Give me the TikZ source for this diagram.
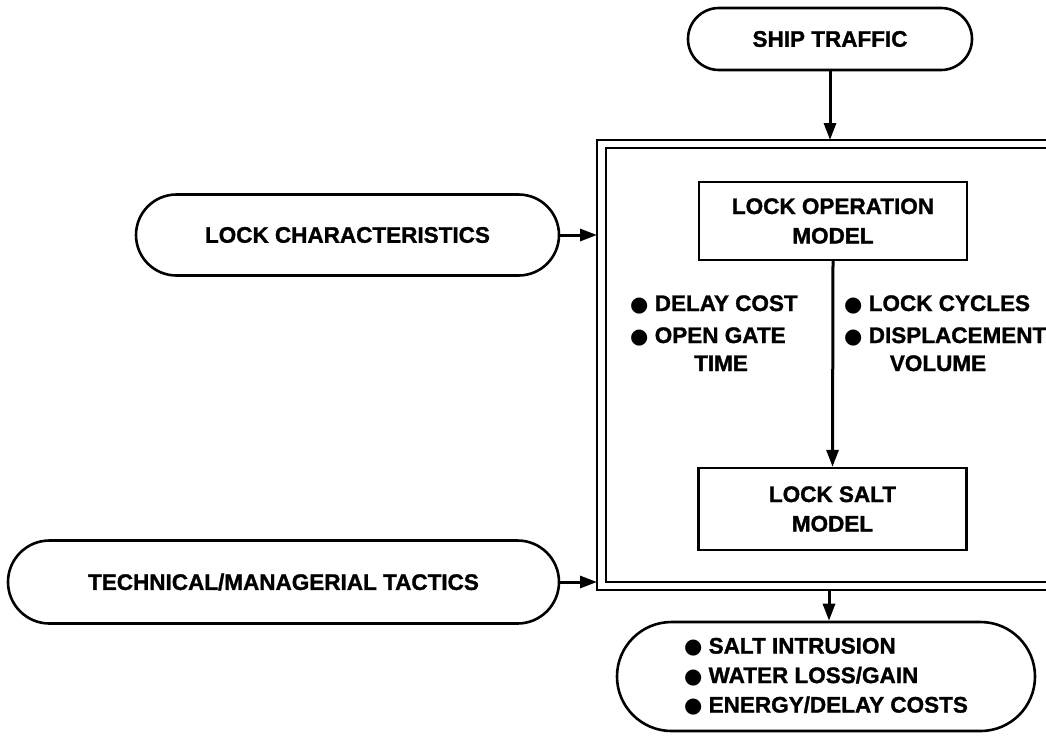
\documentclass[tikz,border=0pt]{standalone}
\usepackage{fontspec}
\setmainfont{Liberation Sans}[BoldFeatures={FakeBold=1.3}]
\newfontfamily\dvs{DejaVu Sans}
\usetikzlibrary{arrows.meta,shapes.misc}
\newcommand\blt{{\dvs\fontsize{21}{21}\selectfont ●}}
\begin{document}
\begin{tikzpicture}[x=1pt,y=-1pt,
  every node/.style={font=\bfseries\fontsize{22.5}{29.5}\selectfont, inner sep=0pt},
  pill/.style={draw, line width=2.6pt, rounded rectangle, minimum width=#1},
  modelbox/.style={draw, line width=2.4pt, minimum width=268pt, minimum height=80pt, align=center},
  flow/.style={line width=3pt, -{Triangle[length=17pt,width=12pt]}},
  frame/.style={line width=2.6pt}]
\useasboundingbox (0,0) rectangle (1046,740);
% inputs
\node[pill=284pt, minimum height=62pt] (ship) at (830,39) {SHIP TRAFFIC};
\node[pill=423pt, minimum height=81pt] (lockchar) at (347.5,235) {LOCK CHARACTERISTICS};
\node[pill=551pt, minimum height=83pt] (tactics) at (283.5,582) {TECHNICAL/MANAGERIAL TACTICS};
% double frame
\draw[frame] (1046,140) -- (597,140) -- (597,590) -- (1046,590);
\draw[frame] (1046,148) -- (606,148) -- (606,582) -- (1046,582);
\coordinate (ftop) at (830,140);
\coordinate (fbot) at (829,590);
\coordinate (fchar) at (597,235);
\coordinate (ftac) at (597,582);
% models
\node[modelbox, minimum height=78pt] (opm) at (833,221) {LOCK OPERATION\\MODEL};
\node[modelbox, minimum height=82pt] (salt) at (832.5,509) {LOCK SALT\\MODEL};
% lists
\node[anchor=base west] (dc) at (630,311) {\blt\ DELAY COST};
\node[anchor=base west] (og) at (630,343) {\blt\ OPEN GATE};
\node[anchor=base] (tm) at (721,371) {TIME};
\node[anchor=base west] (lc) at (844,311) {\blt\ LOCK CYCLES};
\node[anchor=base west] (dv) at (844,343) {\blt\ DISPLACEMENT};
\node[anchor=base] (vo) at (938,371) {VOLUME};
% output
\node[pill=418pt, minimum height=109pt, align=left] (out) at (826,676.5)
  {\blt\ SALT INTRUSION\\\blt\ WATER LOSS/GAIN\\\blt\ ENERGY/DELAY COSTS};
% connectors
\draw[flow] (ship.south) -- (ftop);
\draw[flow] (lockchar.east) -- (fchar);
\draw[flow] (tactics.east) -- (ftac);
\draw[flow] (opm.south) -- (salt.north);
\draw[flow] (fbot) -- (out.north -| fbot);
\end{tikzpicture}
\end{document}
